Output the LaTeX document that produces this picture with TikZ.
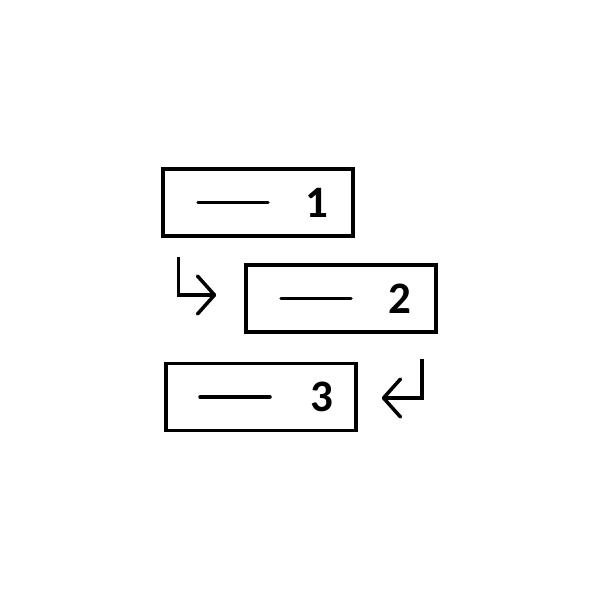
\documentclass[tikz,border=0pt]{standalone}
\usepackage{fontspec}
\setmainfont{Carlito}
\usetikzlibrary{arrows.meta, calc}
\tikzstyle{stepbox} = [rectangle, minimum width=190pt, minimum height=67pt, inner sep=0pt, draw=black, line width=3.5pt]
\tikzstyle{bar} = [line width=3.5pt, line cap=round]
\tikzstyle{num} = [inner sep=0pt, font=\fontsize{45}{45}\selectfont\bfseries]
\tikzstyle{arrow} = [line width=3.5pt, -{Straight Barb[length=17pt,width=38pt,round]}]

\begin{document}
\begin{tikzpicture}[x=1pt, y=-1pt]
\useasboundingbox [fill=white] (0,0) rectangle (600,600);
\node (one) [stepbox] at (258,202.5) {};
\node (two) [stepbox] at (341,298.5) {};
\node (three) [stepbox] at (261,397) {};
\draw [bar] ($(one)+(-60,0)$) -- ($(one)+(10,0)$);
\draw [bar] ($(two)+(-60,0)$) -- ($(two)+(10,0)$);
\draw [bar] ($(three)+(-61,0)$) -- ($(three)+(9,0)$);
\node (n1) [num] at ($(one)+(59,0)$) {1};
\node (n2) [num] at ($(two)+(59,0)$) {2};
\node (n3) [num] at ($(three)+(61,0)$) {3};
\coordinate (a1) at ($(one.south west)+(17,19)$);
\coordinate (b1) at ($(two.west)+(-28,-3.5)$);
\draw [arrow] (a1) |- (b1);
\coordinate (a2) at ($(two.south east)+(-16,25)$);
\coordinate (b2) at ($(three.east)+(24,1)$);
\draw [arrow] (a2) |- (b2);
\end{tikzpicture}
\end{document}
